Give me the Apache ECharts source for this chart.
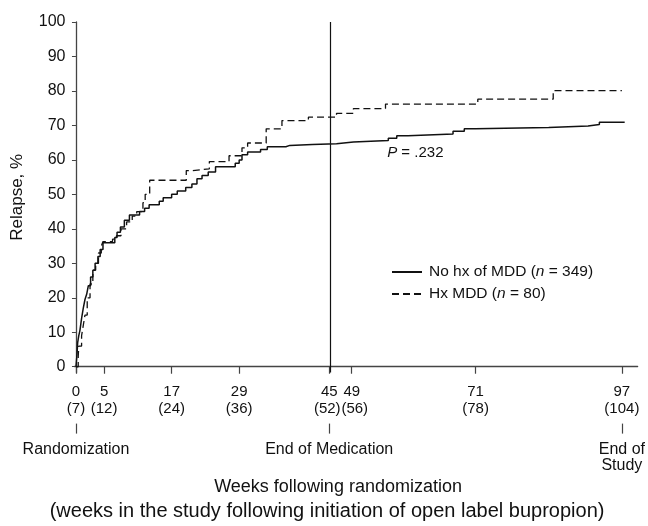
<!DOCTYPE html>
<html>
<head>
<meta charset="utf-8">
<script src="https://cdn.jsdelivr.net/npm/echarts@6/dist/echarts.min.js"></script>
<style>
  html, body { margin: 0; padding: 0; background: #fff; }
  #chart { width: 648px; height: 526px; }
</style>
</head>
<body>
<div id="chart"></div>
<script>
// weeks after randomization and the matching study week
const tickWeeks = [0, 5, 17, 29, 45, 49, 71, 97];
const studyWeeks = [7, 12, 24, 36, 52, 56, 78, 104];
const milestoneWeeks = [0, 45, 97];
const milestoneNames = ['Randomization', 'End of Medication', 'End of\nStudy'];
const yTicks = [0, 10, 20, 30, 40, 50, 60, 70, 80, 90, 100];
const endOfMedication = 45.2;

// cumulative relapse (%)
const noHxWeeks = [0, 0.2, 0.3, 0.5, 0.7, 1.0, 1.3, 1.6, 1.9, 2.2, 2.6, 3.0, 3.4, 3.9, 4.3, 4.8,
  6.9, 7.3, 7.9, 8.6, 9.5, 11.3, 12.2, 13, 14.8, 15.5, 17, 18, 19.5, 20.6, 21.5, 22.4, 23.5,
  24.8, 28.3, 29, 29.5, 30.5, 32.8, 34, 37.3, 38, 42, 46.3, 49.3, 55.5, 57, 59, 67, 69, 71,
  84, 91, 93, 97.5];
const noHxRelapse = [0, 4, 7, 9, 10.5, 14, 17, 19.5, 21, 23.5, 26, 28, 30, 32, 34, 36,
  37.5, 39, 40.5, 42.5, 44, 45, 46, 47, 48, 49, 50, 51, 52, 53, 54.5, 55.5, 56.5,
  58, 59, 60, 61.5, 62.3, 63, 63.8, 64.2, 64.5, 64.7, 65.2, 65.6, 66.3, 67, 67.5, 68.3, 69, 69.4,
  69.8, 70.3, 70.9, 70.9];

const hxWeeks = [0, 0.4, 0.5, 1.0, 1.3, 1.6, 2.0, 2.5, 3.0, 3.5, 4.0, 4.5, 4.8, 6.5, 7.2, 8,
  9, 10, 10.8, 11.9, 12.3, 13.1, 19.6, 20.7, 23.7, 27.2, 29.5, 30.5, 33.8, 36.6, 41.3, 46.3,
  49.3, 55, 71.4, 84.8, 97];
const hxRelapse = [0, 3, 6, 9, 12, 15, 20, 24, 28, 30, 33, 35, 36.3, 37, 38, 40,
  42, 43.7, 45, 47.6, 50, 54.1, 56.9, 57.4, 59.5, 61.2, 63.5, 64.9, 69, 71.4, 72.4, 73.5,
  74.9, 76.2, 77.6, 80.1, 80.1];

const pLabel = { week: 60.3, relapse: 62, text: '{i|P} = .232' };

const font = '"Liberation Sans", Arial, Helvetica, sans-serif';
const ink = '#111';
const axisInk = '#444';

function pairs(xs, ys) {
  return xs.map((x, i) => [x, ys[i]]);
}

// the (52) and (56) labels sit close together, push them slightly apart
function tickLabel(v) {
  const i = tickWeeks.indexOf(v);
  const second = '(' + studyWeeks[i] + ')';
  if (v === 45) return '{n|' + v + '}\n{l|' + second + '}';
  if (v === 49) return '{n|' + v + '}\n{r|' + second + '}';
  return '{n|' + v + '}\n{n|' + second + '}';
}

const chart = echarts.init(document.getElementById('chart'));

const labelText = { fontSize: 15, lineHeight: 17, color: ink, fontFamily: font };

const option = {
  animation: false,
  backgroundColor: '#fff',
  textStyle: { fontFamily: font, color: ink },
  grid: { left: 74.5, right: 5, top: 22, bottom: 143 },
  legend: {
    orient: 'vertical',
    left: 386,
    top: 259,
    itemWidth: 30,
    itemHeight: 10,
    itemGap: 6,
    itemStyle: { opacity: 0 },
    textStyle: {
      fontFamily: font, fontSize: 15.5, color: ink, padding: [0, 0, 0, 2],
      rich: { i: { fontFamily: font, fontSize: 15.5, fontStyle: 'italic', color: ink } }
    },
    formatter: (name) => name === 'noHx' ? 'No hx of MDD ({i|n} = 349)' : 'Hx MDD ({i|n} = 80)',
    data: ['noHx', 'hx']
  },
  xAxis: [
    {
      type: 'value',
      min: -0.26,
      max: 99.8,
      splitLine: { show: false },
      axisLine: { show: true, lineStyle: { color: axisInk, width: 1.3 } },
      axisTick: { show: true, customValues: tickWeeks, length: 7, lineStyle: { color: axisInk, width: 1.2 } },
      axisLabel: {
        customValues: tickWeeks,
        margin: 11,
        fontSize: 15,
        lineHeight: 17,
        color: ink,
        formatter: tickLabel,
        rich: {
          n: labelText,
          l: Object.assign({ padding: [0, 4, 0, 0] }, labelText),
          r: Object.assign({ padding: [0, 0, 0, 6] }, labelText)
        }
      }
    },
    {
      type: 'value',
      position: 'bottom',
      offset: 51,
      min: -0.26,
      max: 99.8,
      splitLine: { show: false },
      axisLine: { show: false },
      axisTick: { show: true, customValues: milestoneWeeks, length: 10, lineStyle: { color: axisInk, width: 1.2 } },
      axisLabel: {
        customValues: milestoneWeeks,
        margin: 18,
        fontSize: 16,
        lineHeight: 16,
        color: ink,
        formatter: (v) => milestoneNames[milestoneWeeks.indexOf(v)]
      },
      name: '{a|Weeks following randomization}\n{b|(weeks in the study following initiation of open label bupropion)}',
      nameLocation: 'middle',
      nameGap: 47,
      nameTextStyle: {
        color: ink,
        fontFamily: font,
        padding: [0, 58, 0, 0],
        rich: {
          a: { fontSize: 18, lineHeight: 24, color: ink, fontFamily: font, padding: [0, 0, 0, 22] },
          b: { fontSize: 20, lineHeight: 23, color: ink, fontFamily: font }
        }
      }
    }
  ],
  yAxis: {
    type: 'value',
    min: -1.7,
    max: 100,
    splitLine: { show: false },
    axisLine: { show: true, lineStyle: { color: axisInk, width: 1.3 } },
    axisTick: { show: true, customValues: yTicks, length: 4, lineStyle: { color: axisInk } },
    axisLabel: { customValues: yTicks, margin: 9, fontSize: 16, color: ink },
    name: 'Relapse, %',
    nameLocation: 'middle',
    nameGap: 49,
    nameTextStyle: { fontSize: 17, color: ink, fontFamily: font }
  },
  series: [
    {
      name: 'noHx',
      type: 'line',
      step: 'end',
      symbol: 'none',
      color: ink,
      lineStyle: { color: ink, width: 1.5, type: 'solid' },
      data: pairs(noHxWeeks, noHxRelapse),
      markLine: {
        silent: true,
        symbol: 'none',
        label: { show: false },
        lineStyle: { color: ink, width: 1.2, type: 'solid' },
        data: [{ xAxis: endOfMedication }]
      },
      markPoint: {
        symbol: 'circle',
        symbolSize: 1,
        itemStyle: { color: 'rgba(0,0,0,0)' },
        label: {
          show: true,
          position: 'inside',
          fontSize: 15,
          color: ink,
          formatter: pLabel.text,
          rich: { i: { fontStyle: 'italic', fontSize: 15, color: ink } }
        },
        data: [{ coord: [pLabel.week, pLabel.relapse] }]
      }
    },
    {
      name: 'hx',
      type: 'line',
      step: 'end',
      symbol: 'none',
      color: ink,
      lineStyle: { color: ink, width: 1.3, type: [7, 4] },
      data: pairs(hxWeeks, hxRelapse)
    }
  ]
};

chart.setOption(option);
</script>
</body>
</html>
